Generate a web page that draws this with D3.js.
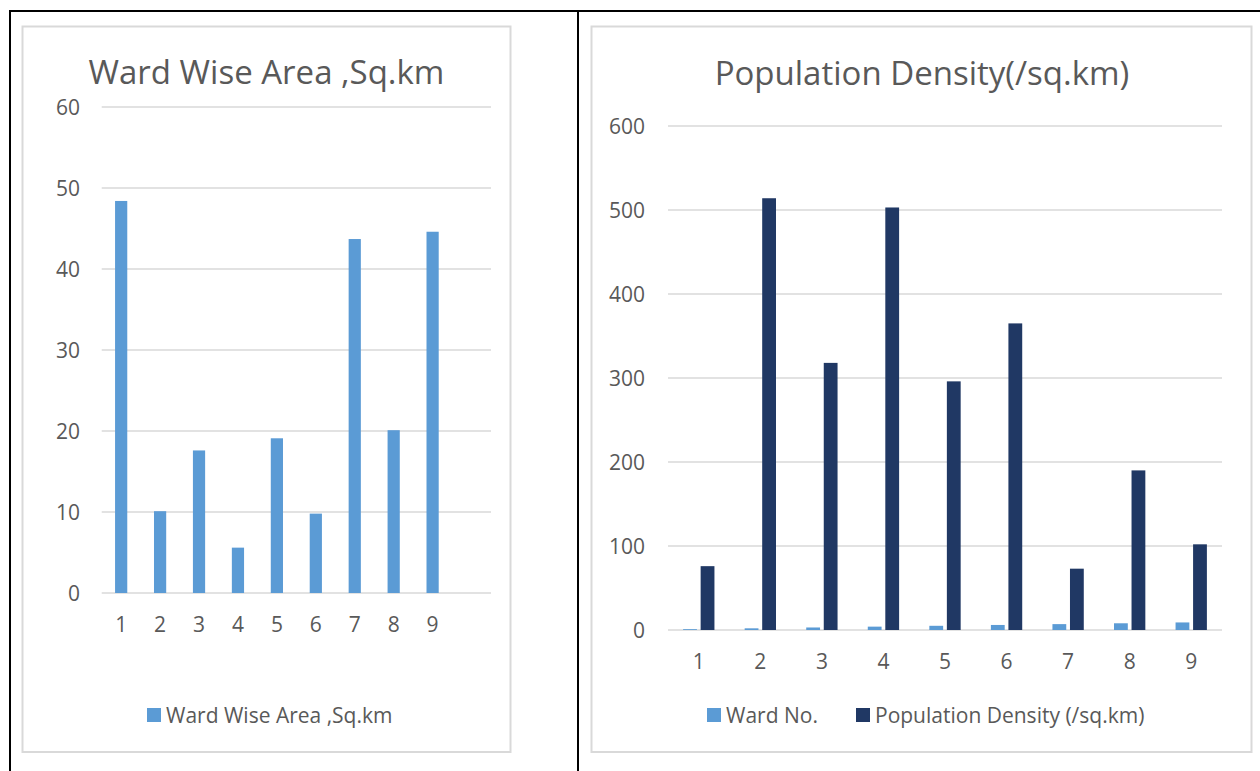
<!DOCTYPE html>
<html>
<head>
<meta charset="utf-8">
<script src="https://cdn.jsdelivr.net/npm/d3@7"></script>
<style>
  html, body { margin: 0; padding: 0; background: #fff; }
  svg { display: block; font-family: "Open Sans", sans-serif; }
</style>
</head>
<body>
<svg id="chart" width="1260" height="771"></svg>
<script>
// Ward labels shared by both charts
const wards = ["1", "2", "3", "4", "5", "6", "7", "8", "9"];
// Area chart keeps one empty trailing category slot
const areaSlots = [...wards, ""];
// Area of each ward (sq.km)
const wardArea = [48.4, 10.1, 17.6, 5.6, 19.1, 9.8, 43.7, 20.1, 44.6];
// Ward number plotted as its own series
const wardNo = [1, 2, 3, 4, 5, 6, 7, 8, 9];
// Population density per ward (/sq.km)
const popDensity = [76, 514, 318, 503, 296, 365, 73, 190, 102];
// Axis ticks
const areaTicks = [0, 10, 20, 30, 40, 50, 60];
const densityTicks = [0, 100, 200, 300, 400, 500, 600];
// Series names
const areaSeries = "Ward Wise Area ,Sq.km";
const densitySeries = ["Ward No.", "Population Density (/sq.km)"];

const textColor = "#595959";
const gridColor = "#d9d9d9";
const lightBlue = "#5b9bd5";
const darkBlue = "#203864";
const labelSize = "21px";
const titleSize = "33px";

const svg = d3.select("#chart");

// Outer table rules
const rules = svg.append("g").attr("stroke", "#000").attr("stroke-width", 2);
rules.append("line").attr("x1", 9).attr("x2", 1260).attr("y1", 11).attr("y2", 11);
rules.append("line").attr("x1", 10).attr("x2", 10).attr("y1", 10).attr("y2", 771);
rules.append("line").attr("x1", 578).attr("x2", 578).attr("y1", 10).attr("y2", 771);

// Chart frames
svg.append("rect").attr("x", 22.5).attr("y", 26.5).attr("width", 488).attr("height", 725.5)
  .attr("fill", "#fff").attr("stroke", gridColor).attr("stroke-width", 2);
svg.append("rect").attr("x", 591.5).attr("y", 26.5).attr("width", 660).attr("height", 725.5)
  .attr("fill", "#fff").attr("stroke", gridColor).attr("stroke-width", 2);

function styleAxis(g) {
  g.select(".domain").remove();
  g.selectAll(".tick line").remove();
  g.selectAll(".tick text")
    .attr("fill", textColor)
    .style("font-size", labelSize)
    .style("font-family", "'Open Sans', sans-serif");
}

// ---------- Left chart: ward wise area ----------
{
  const gap = 2.19;             // gap width relative to bar width
  const x = d3.scaleBand().domain(areaSlots).range([101.7, 491])
    .paddingInner(gap / (1 + gap)).paddingOuter(gap / (1 + gap) / 2);
  const y = d3.scaleLinear().domain([0, 60]).range([593, 107]);

  const g = svg.append("g");

  g.append("g").selectAll("line").data(areaTicks).join("line")
    .attr("x1", 101.7).attr("x2", 491)
    .attr("y1", d => y(d)).attr("y2", d => y(d))
    .attr("stroke", gridColor).attr("stroke-width", 1.3);

  g.append("g").attr("transform", "translate(80,0)")
    .call(d3.axisLeft(y).tickValues(areaTicks).tickSize(0).tickPadding(0))
    .call(styleAxis)
    .selectAll(".tick text").attr("dy", "0.36em");

  g.append("g").attr("transform", `translate(0,${y(0) + 37})`)
    .call(d3.axisBottom(x).tickSize(0).tickPadding(0))
    .call(styleAxis)
    .selectAll(".tick text").attr("dy", "0.1em");

  g.append("g").selectAll("rect").data(wardArea).join("rect")
    .attr("x", (d, i) => x(wards[i]))
    .attr("width", x.bandwidth())
    .attr("y", d => y(d))
    .attr("height", d => y(0) - y(d))
    .attr("fill", lightBlue);

  g.append("text").attr("x", 266.5).attr("y", 84)
    .attr("text-anchor", "middle").attr("fill", textColor)
    .style("font-size", titleSize).text("Ward Wise Area ,Sq.km");

  g.append("rect").attr("x", 147).attr("y", 708).attr("width", 14).attr("height", 14).attr("fill", lightBlue);
  g.append("text").attr("x", 166).attr("y", 722.5).attr("fill", textColor)
    .style("font-size", labelSize).text(areaSeries);
}

// ---------- Right chart: population density ----------
{
  const gap = 2.19, overlap = -0.27;
  const groupW = 2 - overlap;   // two bars plus series gap, in bar widths
  const x0 = d3.scaleBand().domain(wards).range([668, 1222])
    .paddingInner(gap / (groupW + gap)).paddingOuter(gap / (groupW + gap) / 2);
  const x1 = d3.scaleBand().domain(densitySeries).range([0, x0.bandwidth()])
    .paddingInner(-overlap / (1 - overlap));
  const y = d3.scaleLinear().domain([0, 600]).range([630, 126]);

  const g = svg.append("g");

  g.append("g").selectAll("line").data(densityTicks).join("line")
    .attr("x1", 668).attr("x2", 1222)
    .attr("y1", d => y(d)).attr("y2", d => y(d))
    .attr("stroke", gridColor).attr("stroke-width", 1.3);

  g.append("g").attr("transform", "translate(645,0)")
    .call(d3.axisLeft(y).tickValues(densityTicks).tickSize(0).tickPadding(0))
    .call(styleAxis)
    .selectAll(".tick text").attr("dy", "0.36em");

  g.append("g").attr("transform", `translate(0,${y(0) + 37})`)
    .call(d3.axisBottom(x0).tickSize(0).tickPadding(0))
    .call(styleAxis)
    .selectAll(".tick text").attr("dy", "0.1em");

  const rows = wards.map((w, i) => ({ ward: w, vals: [wardNo[i], popDensity[i]] }));
  const colors = [lightBlue, darkBlue];

  g.append("g").selectAll("g").data(rows).join("g")
    .attr("transform", d => `translate(${x0(d.ward)},0)`)
    .selectAll("rect").data(d => d.vals.map((v, k) => ({ k, v }))).join("rect")
    .attr("x", d => x1(densitySeries[d.k]))
    .attr("width", x1.bandwidth())
    .attr("y", d => y(d.v))
    .attr("height", d => y(0) - y(d.v))
    .attr("fill", d => colors[d.k]);

  g.append("text").attr("x", 922).attr("y", 85)
    .attr("text-anchor", "middle").attr("fill", textColor)
    .style("font-size", titleSize).text("Population Density(/sq.km)");

  g.append("rect").attr("x", 707).attr("y", 708).attr("width", 14).attr("height", 14).attr("fill", lightBlue);
  g.append("text").attr("x", 726).attr("y", 722.5).attr("fill", textColor)
    .style("font-size", labelSize).text(densitySeries[0]);
  g.append("rect").attr("x", 856).attr("y", 708).attr("width", 14).attr("height", 14).attr("fill", darkBlue);
  g.append("text").attr("x", 875).attr("y", 722.5).attr("fill", textColor)
    .style("font-size", labelSize).text(densitySeries[1]);
}
</script>
</body>
</html>
